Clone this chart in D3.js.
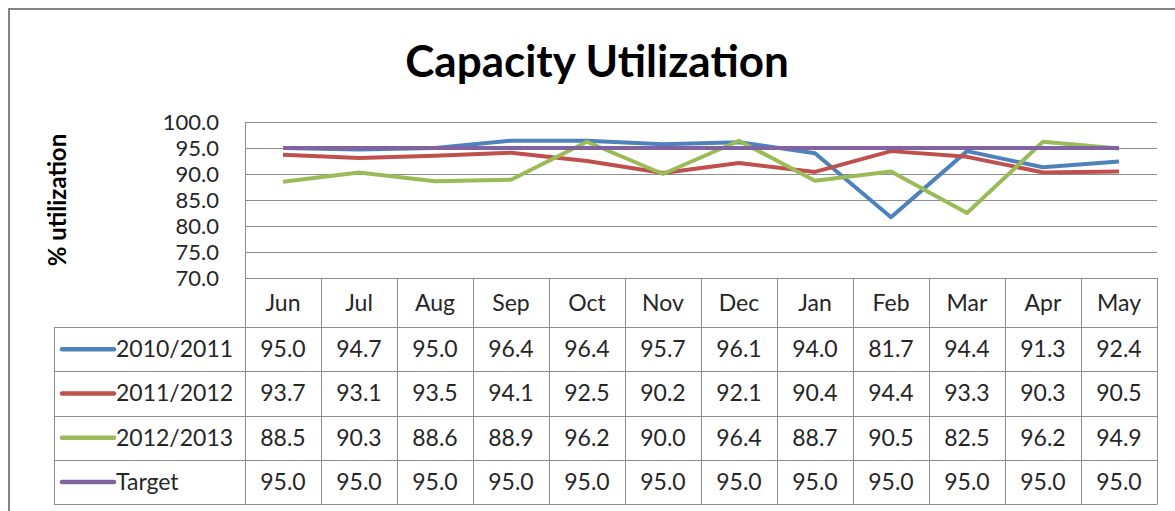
<!DOCTYPE html>
<html>
<head>
<meta charset="utf-8">
<script src="https://d3js.org/d3.v7.min.js"></script>
<title>Capacity Utilization</title>
<style>
  body { margin: 0; background: #fff; }
  text { font-family: Lato, "Open Sans", sans-serif; fill: #262626; }
</style>
</head>
<body>
<script>
    var months = ["Jun", "Jul", "Aug", "Sep", "Oct", "Nov", "Dec", "Jan", "Feb", "Mar", "Apr", "May"];
    var seriesNames = ["2010/2011", "2011/2012", "2012/2013", "Target"];
    var s2010 = [95.0, 94.7, 95.0, 96.4, 96.4, 95.7, 96.1, 94.0, 81.7, 94.4, 91.3, 92.4];
    var s2011 = [93.7, 93.1, 93.5, 94.1, 92.5, 90.2, 92.1, 90.4, 94.4, 93.3, 90.3, 90.5];
    var s2012 = [88.5, 90.3, 88.6, 88.9, 96.2, 90.0, 96.4, 88.7, 90.5, 82.5, 96.2, 94.9];
    var target = [95.0, 95.0, 95.0, 95.0, 95.0, 95.0, 95.0, 95.0, 95.0, 95.0, 95.0, 95.0];
    var yTicks = [70, 75, 80, 85, 90, 95, 100];
    var colors = ["#4f81bd", "#c0504d", "#9bbb59", "#8064a2"];

    var allSeries = [s2010, s2011, s2012, target];

    var W = 1175, H = 511;
    var plot = { left: 245, right: 1157, top: 122, bottom: 278 };
    var legendLeft = 54;
    var headerH = 49, rowH = 44.3;
    var gridColor = "#8e8e8e";
    var fs = "23px";

    var svg = d3.select("body").append("svg")
        .attr("width", W)
        .attr("height", H);

    // chart frame
    svg.append("rect")
        .attr("x", 9).attr("y", 9)
        .attr("width", 1180).attr("height", 520)
        .attr("fill", "none")
        .attr("stroke", "#848484")
        .attr("stroke-width", 2);

    svg.append("text")
        .attr("x", 597).attr("y", 77)
        .attr("text-anchor", "middle")
        .style("font-size", "44px")
        .style("font-weight", "bold")
        .style("fill", "#000")
        .text("Capacity Utilization");

    svg.append("text")
        .attr("transform", "translate(66,200) rotate(-90)")
        .attr("text-anchor", "middle")
        .style("font-size", "24px")
        .style("font-weight", "bold")
        .style("fill", "#000")
        .text("% utilization");

    var x = d3.scaleBand().domain(months).range([plot.left, plot.right]);
    var y = d3.scaleLinear().domain([70, 100]).range([plot.bottom, plot.top]);

    // gridlines
    svg.append("g").selectAll("line")
        .data(yTicks)
        .enter().append("line")
        .attr("x1", plot.left).attr("x2", plot.right)
        .attr("y1", function (d) { return Math.round(y(d)) + 0.5; })
        .attr("y2", function (d) { return Math.round(y(d)) + 0.5; })
        .attr("stroke", gridColor)
        .attr("stroke-width", 1);

    var yAxis = d3.axisLeft(y).tickValues(yTicks).tickSize(0).tickPadding(0)
        .tickFormat(d3.format(".1f"));
    var yAxisG = svg.append("g")
        .attr("transform", "translate(" + (plot.left - 26) + ",0)")
        .call(yAxis);
    yAxisG.select(".domain").remove();
    yAxisG.selectAll("text")
        .style("font-size", "22px")
        .style("font-family", "Lato, sans-serif")
        .attr("fill", "#262626");

    // left axis line
    svg.append("line")
        .attr("x1", plot.left + 0.5).attr("x2", plot.left + 0.5)
        .attr("y1", plot.top).attr("y2", plot.bottom)
        .attr("stroke", gridColor);

    // series lines
    var line = d3.line()
        .x(function (d, i) { return x(months[i]) + x.bandwidth() / 2; })
        .y(function (d) { return y(d); });

    svg.append("g").selectAll("path")
        .data(allSeries)
        .enter().append("path")
        .attr("d", line)
        .attr("fill", "none")
        .attr("stroke", function (d, i) { return colors[i]; })
        .attr("stroke-width", 4)
        .attr("stroke-linejoin", "round");

    // data table
    var tTop = plot.bottom;
    var rowTop = function (r) { return tTop + headerH + r * rowH; };
    var tBottom = rowTop(seriesNames.length);
    var tbl = svg.append("g");

    // horizontal rules
    var hRules = [tTop + headerH].concat(seriesNames.map(function (d, i) { return rowTop(i + 1); }));
    tbl.selectAll("line.h")
        .data(hRules)
        .enter().append("line")
        .attr("class", "h")
        .attr("x1", legendLeft).attr("x2", plot.right)
        .attr("y1", function (d) { return Math.round(d) + 0.5; })
        .attr("y2", function (d) { return Math.round(d) + 0.5; })
        .attr("stroke", gridColor);

    // vertical rules
    var vRules = months.map(function (m) { return x(m); }).concat([plot.right]);
    tbl.selectAll("line.v")
        .data(vRules)
        .enter().append("line")
        .attr("class", "v")
        .attr("x1", function (d) { return Math.round(d) + 0.5; })
        .attr("x2", function (d) { return Math.round(d) + 0.5; })
        .attr("y1", tTop).attr("y2", Math.round(tBottom) + 0.5)
        .attr("stroke", gridColor);
    tbl.append("line")
        .attr("x1", legendLeft + 0.5).attr("x2", legendLeft + 0.5)
        .attr("y1", tTop + headerH).attr("y2", Math.round(tBottom) + 0.5)
        .attr("stroke", gridColor);

    // month header
    tbl.selectAll("text.m")
        .data(months)
        .enter().append("text")
        .attr("class", "m")
        .attr("x", function (d) { return x(d) + x.bandwidth() / 2; })
        .attr("y", tTop + headerH / 2 + 8)
        .attr("text-anchor", "middle")
        .style("font-size", fs)
        .text(function (d) { return d; });

    // legend keys and values
    var rows = tbl.selectAll("g.row")
        .data(allSeries)
        .enter().append("g")
        .attr("class", "row")
        .attr("transform", function (d, i) { return "translate(0," + (rowTop(i) + rowH / 2) + ")"; });

    rows.append("line")
        .attr("x1", 62).attr("x2", 114)
        .attr("y1", 0).attr("y2", 0)
        .attr("stroke", function (d, i) { return colors[i]; })
        .attr("stroke-width", 4.5)
        .attr("stroke-linecap", "round");

    rows.append("text")
        .attr("x", 116).attr("y", 8)
        .style("font-size", fs)
        .text(function (d, i) { return seriesNames[i]; });

    rows.selectAll("text.v")
        .data(function (d) { return d; })
        .enter().append("text")
        .attr("class", "v")
        .attr("x", function (d, i) { return x(months[i]) + x.bandwidth() / 2; })
        .attr("y", 8)
        .attr("text-anchor", "middle")
        .style("font-size", fs)
        .text(function (d) { return d3.format(".1f")(d); });
</script>
</body>
</html>
